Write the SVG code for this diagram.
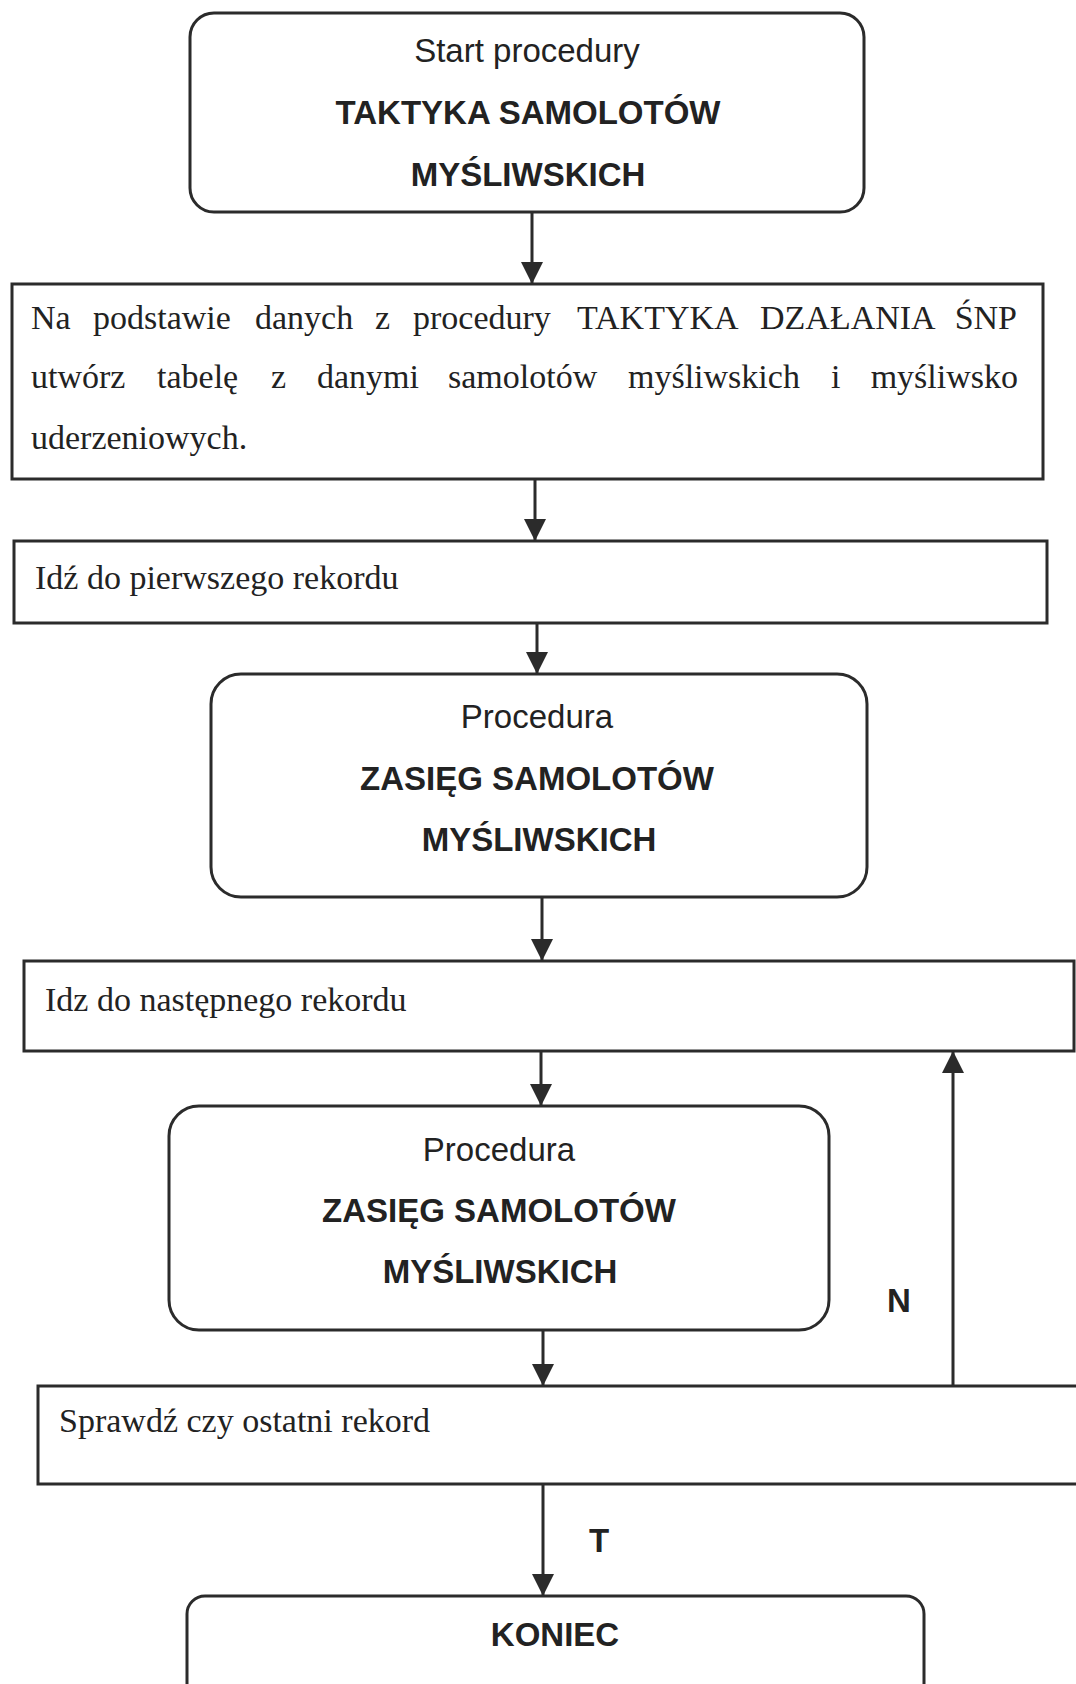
<svg xmlns="http://www.w3.org/2000/svg" width="1076" height="1684" viewBox="0 0 1076 1684">
  <style>
    .box { fill: #ffffff; stroke: #2b2b2b; stroke-width: 3; }
    .link { stroke: #2b2b2b; stroke-width: 3; fill: none; }
    .sans { font-family: "Liberation Sans", Arial, sans-serif; font-size: 33px; fill: #222; }
    .bold { font-weight: bold; }
    .serif { font-family: "Liberation Serif", "Times New Roman", serif; font-size: 34px; fill: #222; }
    .mid { text-anchor: middle; }
  </style>
  <defs>
    <marker id="arrow" markerWidth="22" markerHeight="24" refX="22" refY="11" orient="auto" markerUnits="userSpaceOnUse">
      <path d="M0,0 L22,11 L0,22 Z" fill="#2b2b2b"/>
    </marker>
  </defs>
  <rect width="1076" height="1684" fill="#ffffff"/>

  <!-- start node -->
  <g id="start">
    <rect class="box" x="190" y="13" width="674" height="199" rx="24"/>
    <text class="sans mid" x="527" y="62">Start procedury</text>
    <text class="sans bold mid" x="528" y="124">TAKTYKA SAMOLOTÓW</text>
    <text class="sans bold mid" x="528" y="186">MYŚLIWSKICH</text>
  </g>

  <!-- build table from source data -->
  <g id="build-table">
    <rect class="box" x="12" y="284" width="1031" height="195"/>
    <text class="serif" y="329">
      <tspan x="31">Na</tspan><tspan x="93">podstawie</tspan><tspan x="255">danych</tspan><tspan x="375">z</tspan><tspan x="413">procedury</tspan><tspan x="577">TAKTYKA</tspan><tspan x="760">DZAŁANIA</tspan><tspan x="1017" text-anchor="end">ŚNP</tspan>
    </text>
    <text class="serif" y="388">
      <tspan x="31">utwórz</tspan><tspan x="157">tabelę</tspan><tspan x="271">z</tspan><tspan x="317">danymi</tspan><tspan x="448">samolotów</tspan><tspan x="628">myśliwskich</tspan><tspan x="831">i</tspan><tspan x="1018" text-anchor="end">myśliwsko</tspan>
    </text>
    <text class="serif" x="31" y="449">uderzeniowych.</text>
  </g>

  <!-- first record -->
  <g id="first-record">
    <rect class="box" x="14" y="541" width="1033" height="82"/>
    <text class="serif" x="35" y="589">Idź do pierwszego rekordu</text>
  </g>

  <!-- range procedure (first pass) -->
  <g id="range-1">
    <rect class="box" x="211" y="674" width="656" height="223" rx="30"/>
    <text class="sans mid" x="537" y="728">Procedura</text>
    <text class="sans bold mid" x="537" y="790">ZASIĘG SAMOLOTÓW</text>
    <text class="sans bold mid" x="539" y="851">MYŚLIWSKICH</text>
  </g>

  <!-- next record -->
  <g id="next-record">
    <rect class="box" x="24" y="961" width="1050" height="90"/>
    <text class="serif" x="45" y="1011">Idz do następnego rekordu</text>
  </g>

  <!-- range procedure (loop) -->
  <g id="range-2">
    <rect class="box" x="169" y="1106" width="660" height="224" rx="30"/>
    <text class="sans mid" x="499" y="1161">Procedura</text>
    <text class="sans bold mid" x="499" y="1222">ZASIĘG SAMOLOTÓW</text>
    <text class="sans bold mid" x="500" y="1283">MYŚLIWSKICH</text>
  </g>

  <!-- last record check -->
  <g id="check-last">
    <rect class="box" x="38" y="1386" width="1060" height="98"/>
    <text class="serif" x="59" y="1432">Sprawdź czy ostatni rekord</text>
  </g>

  <!-- end node -->
  <g id="end">
    <rect class="box" x="187" y="1596" width="737" height="110" rx="18"/>
    <text class="sans bold mid" x="555" y="1646">KONIEC</text>
  </g>

  <!-- connectors -->
  <g id="connectors">
    <line class="link" x1="532" y1="212" x2="532" y2="284" marker-end="url(#arrow)"/>
    <line class="link" x1="535" y1="479" x2="535" y2="541" marker-end="url(#arrow)"/>
    <line class="link" x1="537" y1="623" x2="537" y2="674" marker-end="url(#arrow)"/>
    <line class="link" x1="542" y1="897" x2="542" y2="961" marker-end="url(#arrow)"/>
    <line class="link" x1="541" y1="1051" x2="541" y2="1106" marker-end="url(#arrow)"/>
    <line class="link" x1="543" y1="1330" x2="543" y2="1386" marker-end="url(#arrow)"/>
    <line class="link" x1="543" y1="1484" x2="543" y2="1596" marker-end="url(#arrow)"/>
    <line class="link" x1="953" y1="1386" x2="953" y2="1051" marker-end="url(#arrow)"/>
    <text class="sans bold" x="887" y="1312">N</text>
    <text class="sans bold" x="589" y="1552">T</text>
  </g>
</svg>
